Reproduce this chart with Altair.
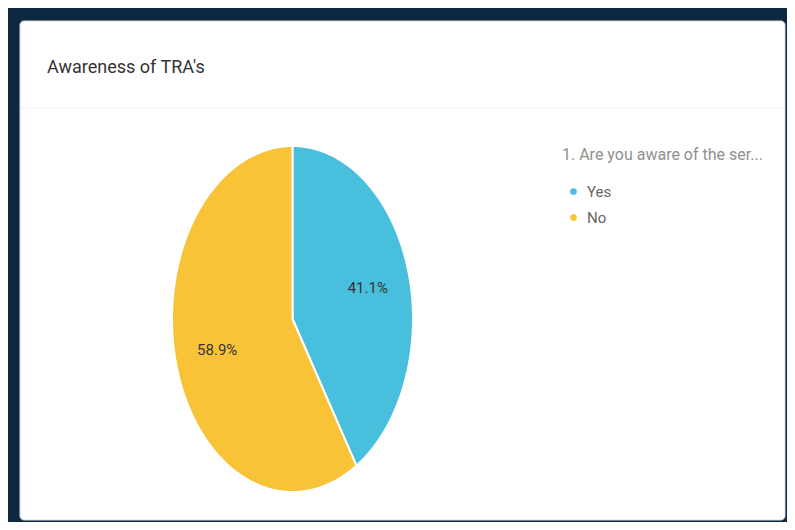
import altair as alt
import pandas as pd

categories = ["Yes", "No"]
values = [41.1, 58.9]
colors = ["#47BFDD", "#F9C338"]

title_text = "Awareness of TRA's"
legend_title = "1. Are you aware of the ser..."

df = pd.DataFrame({"answer": categories, "value": values, "order": list(range(len(categories)))})

FONT = "Roboto, Liberation Sans, sans-serif"

xs = alt.Scale(domain=[-1, 1], range=[152, 393])
ys = alt.Scale(domain=[-1, 1], range=[471, 125])

base = (
    alt.Chart(df)
    .transform_joinaggregate(total="sum(value)")
    .transform_window(cum="sum(value)", sort=[alt.SortField("order")], frame=[None, 0])
    .transform_calculate(
        end="datum.cum / datum.total",
        start="(datum.cum - datum.value) / datum.total",
    )
)

wedges = (
    base.transform_calculate(k="sequence(0, 102)")
    .transform_flatten(["k"])
    .transform_calculate(
        frac="datum.start + (datum.k - 1) / 100 * (datum.end - datum.start)",
        px="datum.k == 0 ? 0 : sin(2 * PI * datum.frac)",
        py="datum.k == 0 ? 0 : cos(2 * PI * datum.frac)",
    )
    .mark_line(filled=True, stroke="white", strokeWidth=2, interpolate="linear-closed")
    .encode(
        x=alt.X("px:Q", scale=xs, axis=None),
        y=alt.Y("py:Q", scale=ys, axis=None),
        color=alt.Color(
            "answer:N",
            scale=alt.Scale(domain=categories, range=colors),
            legend=alt.Legend(
                title=legend_title,
                orient="none",
                legendX=542,
                legendY=126,
                symbolType="circle",
                symbolSize=45,
                symbolOffset=4,
                symbolStrokeWidth=0,
                titleFont=FONT,
                titleFontSize=16,
                titleFontWeight="normal",
                titleColor="#909090",
                titlePadding=21,
                labelFont=FONT,
                labelFontSize=15,
                labelColor="#666666",
                labelOffset=6,
                rowPadding=10,
                padding=0,
                titleLimit=400,
            ),
        ),
        order=alt.Order("k:Q"),
        detail="answer:N",
    )
)

labels = (
    base.transform_calculate(
        mid="(datum.start + datum.end) / 2",
        lx="0.65 * sin(2 * PI * datum.mid)",
        ly="0.65 * cos(2 * PI * datum.mid)",
        label="format(datum.value / datum.total, '.1%')",
    )
    .mark_text(font=FONT, fontSize=15, color="#333333")
    .encode(
        x=alt.X("lx:Q", scale=xs, axis=None),
        y=alt.Y("ly:Q", scale=ys, axis=None),
        text="label:N",
    )
)

card = (
    alt.Chart(pd.DataFrame({"a": [0]}))
    .mark_rect(fill="white", stroke="#dddddd", strokeWidth=1, cornerRadius=4)
    .encode(x=alt.value(0), x2=alt.value(765), y=alt.value(0), y2=alt.value(499))
)

title_mark = (
    alt.Chart(pd.DataFrame({"t": [title_text]}))
    .mark_text(align="left", baseline="middle", x=27, y=47, font=FONT, fontSize=18, color="#333333")
    .encode(text="t:N")
)

separator = (
    alt.Chart(pd.DataFrame({"a": [0]}))
    .mark_rule(color="#eeeeee", strokeWidth=1)
    .encode(x=alt.value(0), x2=alt.value(765), y=alt.value(87))
)

chart = (
    alt.layer(card, separator, wedges, labels, title_mark)
    .properties(
        width=765,
        height=499,
        autosize="none",
        padding={"left": 12, "top": 13, "right": 2, "bottom": 2},
        background="#0e2841",
    )
    .configure_view(stroke=None)
)

chart.save("out.html", embed_options={"renderer": "svg", "actions": False})
